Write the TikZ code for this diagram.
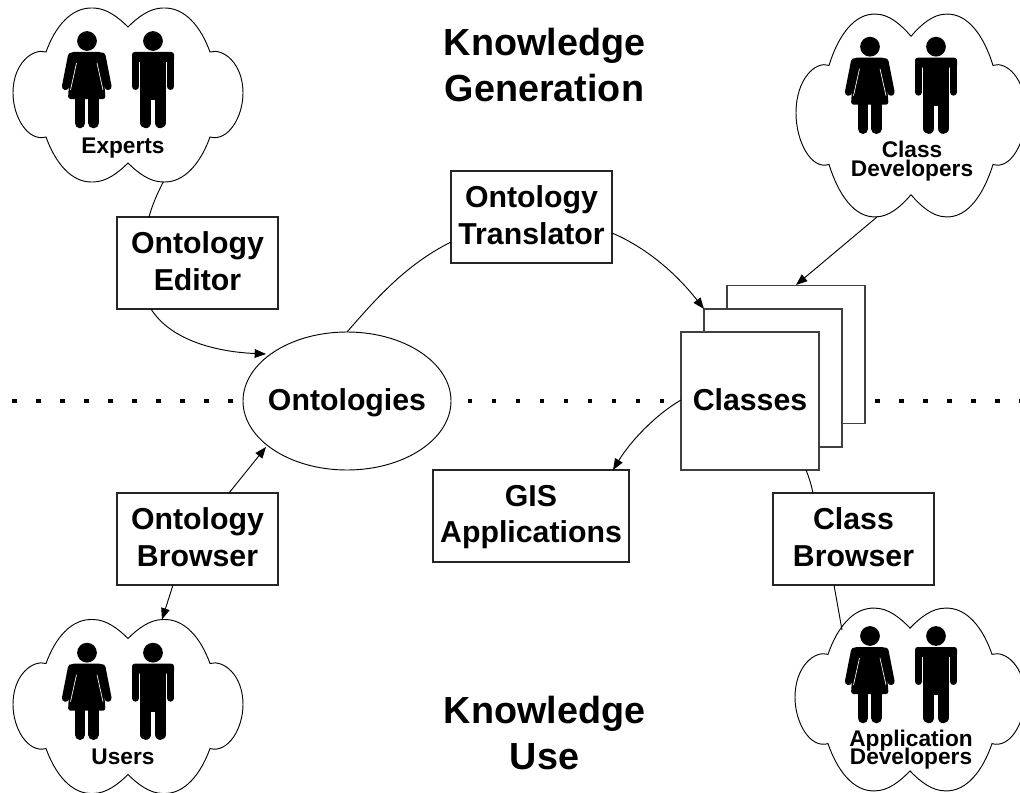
\documentclass[tikz,border=0pt]{standalone}
\usepackage{fontspec}
\setmainfont{Liberation Sans}
\usetikzlibrary{arrows.meta,shapes.geometric}
\newcommand{\boxlines}[2]{\rule{0pt}{17.5pt}#1\\#2\rule[-4.5pt]{0pt}{4.5pt}}
\newcommand{\titlelines}[2]{\rule{0pt}{22pt}#1\\#2\rule[-5pt]{0pt}{5pt}}
\newcommand{\cloudlines}[2]{\rule{0pt}{13pt}#1\\#2\rule[-3pt]{0pt}{3pt}}
\newcommand{\cloudfont}{\setlength{\lineskiplimit}{-100pt}\fontsize{17}{13.7}\selectfont\bfseries}
\tikzset{
  boxnode/.style={draw=black!85,line width=1pt,fill=white,minimum width=120.75pt,minimum height=69pt,inner sep=0pt,align=center,font=\fontsize{22.7}{27.5}\selectfont\bfseries},
  pagenode/.style={draw=black!75,line width=1pt,fill=white,minimum width=103.5pt,minimum height=103.5pt,inner sep=0pt},
  ovalnode/.style={ellipse,draw=black,line width=.7pt,fill=white,minimum width=156pt,minimum height=103.5pt,inner sep=0pt},
  bigtext/.style={inner sep=0pt,text height=17pt,text depth=3.5pt,font=\fontsize{22.7}{27.5}\selectfont\bfseries},
  titletext/.style={align=center,inner sep=0pt,font=\fontsize{28.3}{34.5}\selectfont\bfseries},
  cloudtext/.style={align=center,inner sep=0pt,font=\cloudfont},
  conn/.style={draw=black,line width=.7pt},
  arr/.style={conn,-{Triangle[length=8.5pt,width=6.5pt]}},
  cloudline/.style={draw=black,line width=.7pt,fill=white},
  dotline/.style={draw=black,line width=3.4pt,dash pattern=on 3.4pt off 14.58pt}
}
\newcommand{\cloudshape}[3]{%
  \draw[cloudline,shift={(#1,#2)},yscale=#3]
    (0,-68) .. controls (-10,-78) and (-22,-87) .. (-35,-87)
    .. controls (-57,-88) and (-73,-68) .. (-82,-43)
    .. controls (-95,-47) and (-115,-32) .. (-115,-2)
    .. controls (-115,22) and (-100,47) .. (-82,42)
    .. controls (-73,67) and (-57,88) .. (-35,87)
    .. controls (-22,87) and (-10,78) .. (0,68)
    .. controls (10,78) and (22,87) .. (35,87)
    .. controls (57,88) and (73,67) .. (82,42)
    .. controls (100,47) and (115,22) .. (115,-2)
    .. controls (115,-32) and (95,-47) .. (82,-43)
    .. controls (73,-68) and (57,-88) .. (35,-87)
    .. controls (22,-87) and (10,-78) .. (0,-68) -- cycle;}
\newcommand{\persons}[2]{%
  \begin{scope}[shift={(#1,#2)}]
    % woman
    \fill[black] (87,41) circle[radius=7.4pt];
    \fill[black,rounded corners=2pt] (71,52) -- (102,52) -- (105.5,99) -- (68,99) -- cycle;
    \draw[black,line width=5.4pt,line cap=round] (71.5,56) -- (65.5,86.5);
    \draw[black,line width=5.4pt,line cap=round] (102,56) -- (108,86.5);
    \draw[black,line width=8pt,line cap=round] (80,99) -- (80,123);
    \draw[black,line width=8pt,line cap=round] (93.5,99) -- (93.5,123);
    \draw[white,line width=.5pt] (76.5,63) -- (70.5,90);
    \draw[white,line width=.5pt] (97,63) -- (103,90);
    % man
    \fill[black] (153,41) circle[radius=7.4pt];
    \fill[black,rounded corners=2pt] (132,52) rectangle (174,62);
    \fill[black] (140,55) rectangle (166,100);
    \draw[black,line width=5.2pt,line cap=round] (135.5,56) -- (135.5,86.5);
    \draw[black,line width=5.2pt,line cap=round] (170.5,56) -- (170.5,86.5);
    \draw[black,line width=8.6pt,line cap=round] (145.7,95) -- (145.7,122.5);
    \draw[black,line width=8.6pt,line cap=round] (160.3,95) -- (160.3,122.5);
  \end{scope}}
\begin{document}
\begin{tikzpicture}[x=.75pt,y=-.75pt]
  \clip (0,0) rectangle (1020,792);
  \fill[white] (0,0) rectangle (1020,792);

  % separator
  \coordinate (dotsL) at (12.3,401);
  \coordinate (dotsR) at (1024,401);
  \draw[dotline] (dotsL) -- (dotsR);

  % clouds
  \cloudshape{128}{95}{1}
  \persons{0}{0}
  \cloudshape{911}{115.5}{1.165}
  \persons{783}{5.7}
  \cloudshape{128}{706.5}{1}
  \persons{0}{611.7}
  \cloudshape{910}{699.5}{1.05}
  \persons{783}{595}

  \node[inner sep=0pt,font=\cloudfont,anchor=base] (experts) at (123,153) {Experts};
  \node[inner sep=0pt,font=\cloudfont,anchor=base] (users) at (123,764) {Users};
  \node[cloudtext] (classdev) at (912,160.8) {\cloudlines{Class}{Developers}};
  \node[cloudtext] (appdev) at (911,749.3) {\cloudlines{Application}{Developers}};

  % titles
  \node[titletext] (gen) at (544.5,67.4) {\titlelines{Knowledge}{Generation}};
  \node[titletext] (use) at (544.5,735.4) {\titlelines{Knowledge}{Use}};

  % boxes
  \node[boxnode] (editor) at (197.5,263) {\boxlines{Ontology}{Editor}};
  \node[boxnode] (obrowser) at (197.5,539) {\boxlines{Ontology}{Browser}};
  \node[boxnode] (translator) at (531.5,217) {\boxlines{Ontology}{Translator}};
  \node[boxnode,minimum width=147pt] (gis) at (531,516) {\boxlines{GIS}{Applications}};
  \node[boxnode] (cbrowser) at (853.5,539) {\boxlines{Class}{Browser}};
  \node[ovalnode] (ontologies) at (347,401) {};
  \node[bigtext] (ontologiestext) at (ontologies.center) {Ontologies};
  \node[pagenode] (classes3) at (796,354.5) {};
  \node[pagenode] (classes2) at (773,378) {};
  \node[pagenode] (classes) at (750,401) {};
  \node[bigtext] (classestext) at (classes.center) {Classes};

  % connector ends
  \coordinate (expOut) at (163.5,181.5);
  \coordinate (edIn) at (149,217);
  \coordinate (edOut) at (151,309);
  \coordinate (onIn1) at (266,354);
  \coordinate (onOut) at (347,332);
  \coordinate (trIn) at (451,242);
  \coordinate (trOut) at (612,233);
  \coordinate (clIn1) at (704,309);
  \coordinate (cdOut) at (877,217);
  \coordinate (clIn2) at (796,285);
  \coordinate (clOut1) at (681,400);
  \coordinate (gisIn) at (613,470);
  \coordinate (clOut2) at (806,470);
  \coordinate (cbIn) at (813,493);
  \coordinate (cbOut) at (834,585);
  \coordinate (adIn) at (842,630);
  \coordinate (obOut1) at (229,493);
  \coordinate (onIn2) at (266,447);
  \coordinate (obOut2) at (173,585);
  \coordinate (usIn) at (162,619.5);

  % connectors
  \draw[conn] (expOut) .. controls (156,196) and (152,206) .. (edIn);
  \draw[arr] (edOut) .. controls (172,342) and (220,352) .. (onIn1);
  \draw[conn] (onOut) .. controls (375,300) and (405,265) .. (trIn);
  \draw[arr] (trOut) .. controls (645,247) and (675,272) .. (clIn1);
  \draw[arr] (cdOut) -- (clIn2);
  \draw[arr] (clOut1) .. controls (655,415) and (630,442) .. (gisIn);
  \draw[conn] (clOut2) .. controls (809,477) and (811,484) .. (cbIn);
  \draw[conn] (cbOut) -- (adIn);
  \draw[arr] (obOut1) -- (onIn2);
  \draw[arr] (obOut2) -- (usIn);
\end{tikzpicture}
\end{document}
